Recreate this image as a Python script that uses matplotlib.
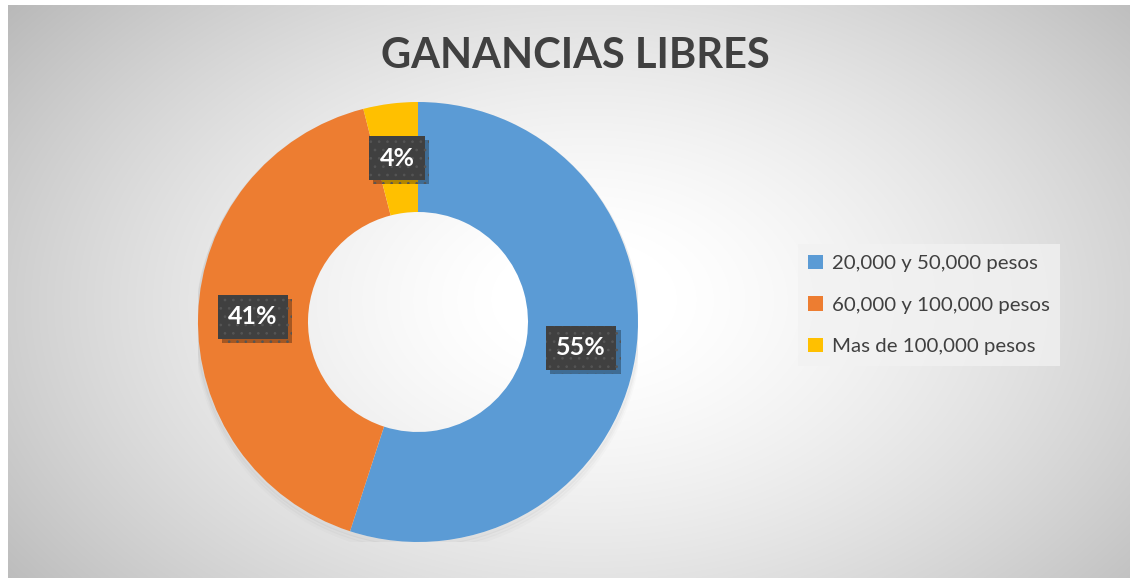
import numpy as np
import matplotlib.pyplot as plt
from matplotlib.patches import Patch
import matplotlib.patheffects as pe

plt.rcParams['font.family'] = ['Lato', 'DejaVu Sans']
plt.rcParams['hatch.linewidth'] = 0.7

# datos
categorias = ['20,000 y 50,000 pesos', '60,000 y 100,000 pesos', 'Mas de 100,000 pesos']
porcentajes = [55, 41, 4]
colores = ['#5B9BD5', '#ED7D31', '#FFC000']
titulo = 'GANANCIAS LIBRES'

W, H = 1130, 579
fig = plt.figure(figsize=(W / 100, H / 100), dpi=100)
fig.patch.set_facecolor('white')

# fondo con degradado radial
bg = fig.add_axes([8 / W, 1 / H, 1 - 8 / W, 1 - 6 / H])
yy, xx = np.mgrid[0:572, 0:1122]
cx, cy = 570, 290
d = np.sqrt(((xx - cx) / 640) ** 2 + ((yy - cy) / 420) ** 2)
d = np.clip(d, 0, 1.2)
val = 1 - 0.23 * d ** 1.5
val += 0.015 * (xx / 1122) + 0.01 * (yy / 572)
img = np.dstack([val, val, val]).clip(0, 1)
bg.imshow(img, aspect='auto', extent=[0, 1, 0, 1])
bg.axis('off')

# dona
cx_px, cy_px, r_px = 418, 322, 220
ax = fig.add_axes([(cx_px - r_px) / W, (H - cy_px - r_px) / H, 2 * r_px / W, 2 * r_px / H])
ax.set_facecolor('none')

# sombra suave
for i, a in enumerate([0.035, 0.025, 0.015]):
    sh = plt.Circle((0.0, -0.01 * (i + 1)), 1.0 + 0.004 * i, transform=ax.transData,
                    fc='none', ec='black', lw=3, alpha=a)
    ax.add_patch(sh)

wedges, _ = ax.pie(porcentajes, colors=colores, startangle=90, counterclock=False,
                   radius=1.0, wedgeprops=dict(width=0.5, linewidth=0))
ax.set_xlim(-1, 1)
ax.set_ylim(-1, 1)
ax.set_aspect('equal')
ax.axis('off')

# etiquetas de porcentaje
for w, p in zip(wedges, porcentajes):
    mid = np.deg2rad((w.theta1 + w.theta2) / 2)
    x, y = 0.75 * np.cos(mid), 0.75 * np.sin(mid)
    t = ax.text(x, y, f'{p}%', ha='center', va='center', color='white',
                fontsize=18, fontweight='bold', zorder=6,
                bbox=dict(boxstyle='square,pad=0.42', fc='#404040', ec='#555555',
                          lw=0, hatch='..'))
    t.get_bbox_patch().set_path_effects([
        pe.SimplePatchShadow(offset=(3, -3), shadow_rgbFace='black', alpha=0.3),
        pe.Normal()])

# titulo
fig.text(575 / W, 1 - 56 / H, titulo, ha='center', va='center', fontsize=30,
         fontweight='bold', color='#404040')

# leyenda
handles = [Patch(facecolor=c, edgecolor='none') for c in colores]
leg = fig.legend(handles, categorias, loc='center left',
                 bbox_to_anchor=(798 / W, 1 - 305 / H), fontsize=14.7,
                 frameon=True, fancybox=False, handlelength=0.7, handleheight=0.7,
                 handletextpad=0.45, labelspacing=1.2, borderpad=0.5,
                 borderaxespad=0)
leg.get_frame().set_facecolor('#f2f2f2')
leg.get_frame().set_alpha(0.75)
leg.get_frame().set_edgecolor('none')
for txt in leg.get_texts():
    txt.set_color('#404040')

fig.savefig('out.png', dpi=100)
